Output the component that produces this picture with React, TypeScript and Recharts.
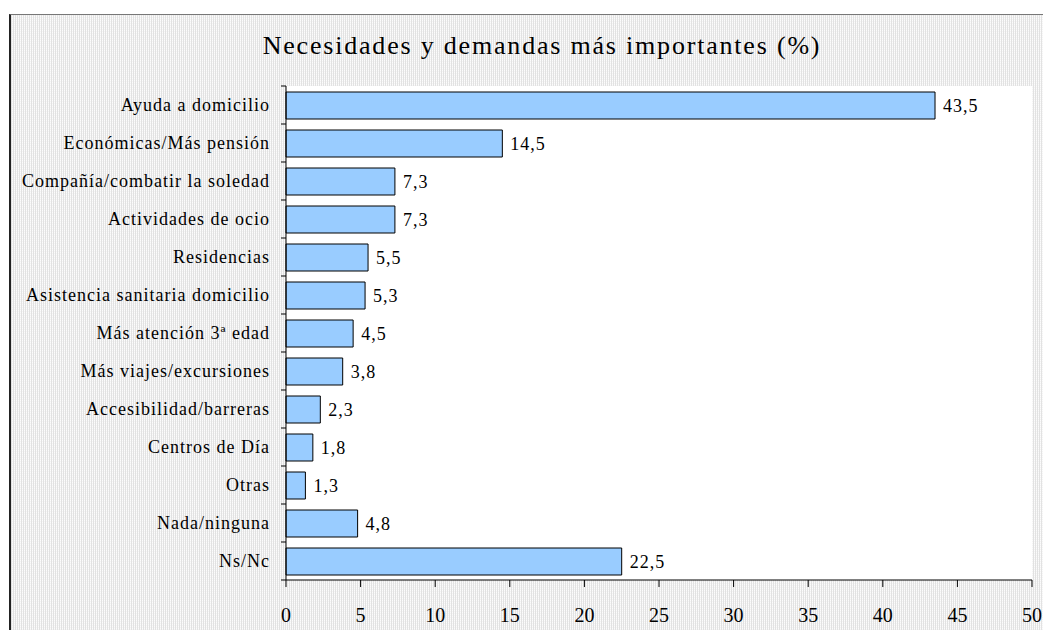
import { BarChart, Bar, XAxis, YAxis, CartesianGrid, LabelList } from "recharts"

const categories = [
  "Ayuda a domicilio",
  "Económicas/Más pensión",
  "Compañía/combatir la soledad",
  "Actividades de ocio",
  "Residencias",
  "Asistencia sanitaria domicilio",
  "Más atención 3ª edad",
  "Más viajes/excursiones",
  "Accesibilidad/barreras",
  "Centros de Día",
  "Otras",
  "Nada/ninguna",
  "Ns/Nc",
]

const values = [43.5, 14.5, 7.3, 7.3, 5.5, 5.3, 4.5, 3.8, 2.3, 1.8, 1.3, 4.8, 22.5]

const xTicks = [0, 5, 10, 15, 20, 25, 30, 35, 40, 45, 50]

const title = "Necesidades y demandas más importantes (%)"

const FONT = "Liberation Serif, DejaVu Serif, serif"
const BAND = (580 - 86) / categories.length

const data = categories.map((name, i) => ({ name, value: values[i] }))

// category label plus Excel-style tick marks on the band edges
function CategoryTick(props: any) {
  const { x, y, payload, index } = props
  return (
    <g>
      <line x1={x - 5} x2={x} y1={y - BAND / 2} y2={y - BAND / 2} stroke="#000" />
      {index === categories.length - 1 && (
        <line x1={x - 5} x2={x} y1={y + BAND / 2} y2={y + BAND / 2} stroke="#000" />
      )}
      <text
        x={x - 16}
        y={y}
        dy="0.35em"
        textAnchor="end"
        style={{ fontSize: 18, fontFamily: FONT, letterSpacing: 1 }}
        fill="#000"
      >
        {payload.value}
      </text>
    </g>
  )
}

export default function App() {
  return (
    <div style={{ position: "absolute", left: 0, top: 0, width: 1043, height: 630, overflow: "hidden", background: "#fff", fontFamily: FONT }}>
      <div
        style={{
          position: "absolute",
          left: 9,
          top: 14,
          width: 1100,
          height: 700,
          borderTop: "1px solid #777",
          borderLeft: "2px solid #222",
          backgroundColor: "#f4f4f4",
          backgroundImage:
            "repeating-linear-gradient(90deg, #e2e2e2 0 1px, transparent 1px 2px), repeating-linear-gradient(0deg, #fcfcfc 0 1px, transparent 1px 2px)",
        }}
      />
      <div
        style={{
          position: "absolute",
          left: 0,
          top: 31,
          width: 1084,
          textAlign: "center",
          fontFamily: FONT,
          fontSize: 26,
          letterSpacing: 1.8,
          color: "#000",
        }}
      >
        {title}
      </div>
      <div style={{ position: "absolute", left: 0, top: 0 }}>
        <BarChart
          width={1043}
          height={630}
          data={data}
          layout="vertical"
          margin={{ top: 86, right: 11, bottom: 0, left: 0 }}
          barSize={27}
        >
          <CartesianGrid horizontal={false} vertical={false} fill="#fff" />
          <XAxis
            type="number"
            domain={[0, 50]}
            ticks={xTicks}
            interval={0}
            height={50}
            tickSize={7}
            tickMargin={21}
            stroke="#000"
            tickLine={{ stroke: "#000" }}
            axisLine={{ stroke: "#000" }}
            tick={{ fontSize: 20, fontFamily: FONT, fill: "#000" }}
          />
          <YAxis
            type="category"
            dataKey="name"
            width={286}
            tickSize={0}
            tickMargin={0}
            tickLine={false}
            axisLine={{ stroke: "#000" }}
            interval={0}
            tick={<CategoryTick />}
          />
          <Bar dataKey="value" fill="#99ccff" stroke="#000" strokeWidth={1} isAnimationActive={false}>
            <LabelList
              dataKey="value"
              position="right"
              offset={8}
              formatter={(v: any) => Number(v).toFixed(1).replace(".", ",")}
              style={{ fontSize: 18, fontFamily: FONT, fill: "#000", letterSpacing: 1 }}
            />
          </Bar>
        </BarChart>
      </div>
    </div>
  )
}
